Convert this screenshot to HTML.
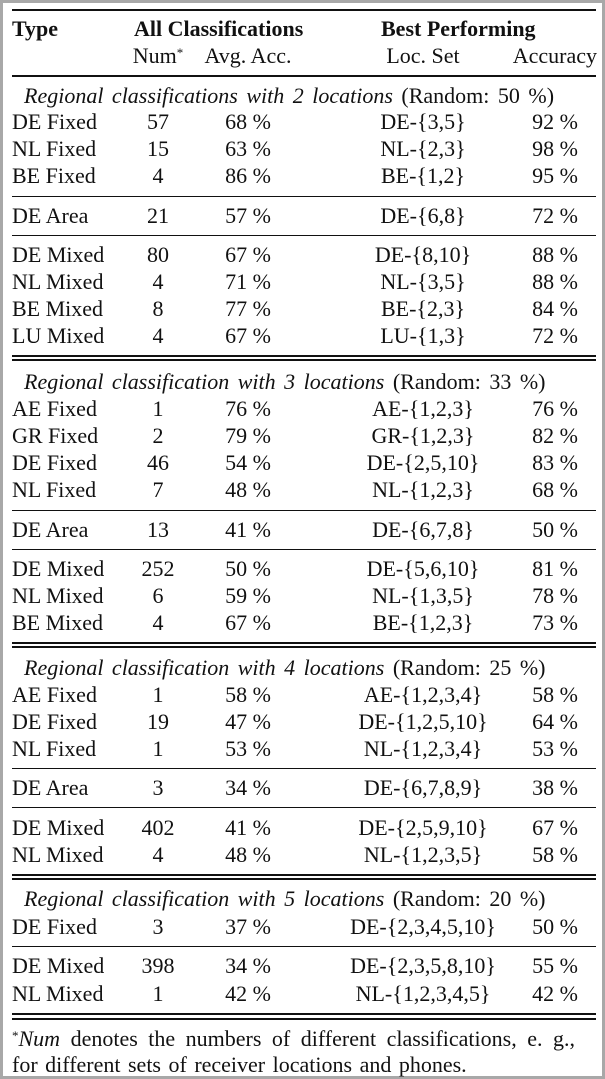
<!DOCTYPE html>
<html><head><meta charset="utf-8"><style>
body{margin:0;width:605px;height:1079px;background:#fff;position:relative;overflow:hidden;font-family:"Liberation Serif","Times New Roman",Times,"DejaVu Serif",serif;font-size:22px;color:#111}
.frame{position:absolute;left:0;top:0;width:599px;height:1073px;border:3px solid #a8a8a8}
.r{position:absolute;height:24px;line-height:24px;white-space:nowrap}
.s{word-spacing:3px}
.t{left:12px}
.n{left:118px;width:80px;text-align:center}
.a{left:198px;width:100px;text-align:center}
.l{left:323px;width:200px;text-align:center}
.c{left:478px;width:100px;text-align:right}
.h{position:absolute;left:12px;width:584px;background:#111}
b{font-weight:bold}
i{font-style:italic}
</style></head><body>
<div class="frame"></div>
<div class="h" style="top:9px;height:2px"></div>
<div class="r t" style="top:17px"><b>Type</b></div>
<div class="r" style="top:17px;left:134px"><b>All Classifications</b></div>
<div class="r" style="top:17px;left:381px"><b>Best Performing</b></div>
<div class="r n" style="top:44px">Num<sup style="font-size:13px;vertical-align:6px;line-height:0">*</sup></div>
<div class="r a" style="top:44px">Avg. Acc.</div>
<div class="r l" style="top:44px">Loc. Set</div>
<div class="r c" style="top:44px;left:460px;width:137px">Accuracy</div>
<div class="h" style="top:75px;height:1.5px"></div>

<div class="r s" style="top:84px;left:24px"><i>Regional classifications with 2 locations</i> (Random: 50 %)</div>
<div class="r t" style="top:110px">DE Fixed</div><div class="r n" style="top:110px">57</div><div class="r a" style="top:110px">68 %</div><div class="r l" style="top:110px">DE-{3,5}</div><div class="r c" style="top:110px">92 %</div>
<div class="r t" style="top:137px">NL Fixed</div><div class="r n" style="top:137px">15</div><div class="r a" style="top:137px">63 %</div><div class="r l" style="top:137px">NL-{2,3}</div><div class="r c" style="top:137px">98 %</div>
<div class="r t" style="top:164px">BE Fixed</div><div class="r n" style="top:164px">4</div><div class="r a" style="top:164px">86 %</div><div class="r l" style="top:164px">BE-{1,2}</div><div class="r c" style="top:164px">95 %</div>
<div class="h" style="top:196px;height:1px"></div>
<div class="r t" style="top:204px">DE Area</div><div class="r n" style="top:204px">21</div><div class="r a" style="top:204px">57 %</div><div class="r l" style="top:204px">DE-{6,8}</div><div class="r c" style="top:204px">72 %</div>
<div class="h" style="top:235px;height:1px"></div>
<div class="r t" style="top:243px">DE Mixed</div><div class="r n" style="top:243px">80</div><div class="r a" style="top:243px">67 %</div><div class="r l" style="top:243px">DE-{8,10}</div><div class="r c" style="top:243px">88 %</div>
<div class="r t" style="top:270px">NL Mixed</div><div class="r n" style="top:270px">4</div><div class="r a" style="top:270px">71 %</div><div class="r l" style="top:270px">NL-{3,5}</div><div class="r c" style="top:270px">88 %</div>
<div class="r t" style="top:297px">BE Mixed</div><div class="r n" style="top:297px">8</div><div class="r a" style="top:297px">77 %</div><div class="r l" style="top:297px">BE-{2,3}</div><div class="r c" style="top:297px">84 %</div>
<div class="r t" style="top:324px">LU Mixed</div><div class="r n" style="top:324px">4</div><div class="r a" style="top:324px">67 %</div><div class="r l" style="top:324px">LU-{1,3}</div><div class="r c" style="top:324px">72 %</div>
<div class="h" style="top:355px;height:1.5px"></div><div class="h" style="top:359px;height:1.5px"></div>

<div class="r s" style="top:370px;left:24px"><i>Regional classification with 3 locations</i> (Random: 33 %)</div>
<div class="r t" style="top:397px">AE Fixed</div><div class="r n" style="top:397px">1</div><div class="r a" style="top:397px">76 %</div><div class="r l" style="top:397px">AE-{1,2,3}</div><div class="r c" style="top:397px">76 %</div>
<div class="r t" style="top:424px">GR Fixed</div><div class="r n" style="top:424px">2</div><div class="r a" style="top:424px">79 %</div><div class="r l" style="top:424px">GR-{1,2,3}</div><div class="r c" style="top:424px">82 %</div>
<div class="r t" style="top:451px">DE Fixed</div><div class="r n" style="top:451px">46</div><div class="r a" style="top:451px">54 %</div><div class="r l" style="top:451px">DE-{2,5,10}</div><div class="r c" style="top:451px">83 %</div>
<div class="r t" style="top:478px">NL Fixed</div><div class="r n" style="top:478px">7</div><div class="r a" style="top:478px">48 %</div><div class="r l" style="top:478px">NL-{1,2,3}</div><div class="r c" style="top:478px">68 %</div>
<div class="h" style="top:510px;height:1px"></div>
<div class="r t" style="top:518px">DE Area</div><div class="r n" style="top:518px">13</div><div class="r a" style="top:518px">41 %</div><div class="r l" style="top:518px">DE-{6,7,8}</div><div class="r c" style="top:518px">50 %</div>
<div class="h" style="top:549px;height:1px"></div>
<div class="r t" style="top:557px">DE Mixed</div><div class="r n" style="top:557px">252</div><div class="r a" style="top:557px">50 %</div><div class="r l" style="top:557px">DE-{5,6,10}</div><div class="r c" style="top:557px">81 %</div>
<div class="r t" style="top:584px">NL Mixed</div><div class="r n" style="top:584px">6</div><div class="r a" style="top:584px">59 %</div><div class="r l" style="top:584px">NL-{1,3,5}</div><div class="r c" style="top:584px">78 %</div>
<div class="r t" style="top:611px">BE Mixed</div><div class="r n" style="top:611px">4</div><div class="r a" style="top:611px">67 %</div><div class="r l" style="top:611px">BE-{1,2,3}</div><div class="r c" style="top:611px">73 %</div>
<div class="h" style="top:642px;height:1.5px"></div><div class="h" style="top:646px;height:1.5px"></div>

<div class="r s" style="top:656px;left:24px"><i>Regional classification with 4 locations</i> (Random: 25 %)</div>
<div class="r t" style="top:683px">AE Fixed</div><div class="r n" style="top:683px">1</div><div class="r a" style="top:683px">58 %</div><div class="r l" style="top:683px">AE-{1,2,3,4}</div><div class="r c" style="top:683px">58 %</div>
<div class="r t" style="top:710px">DE Fixed</div><div class="r n" style="top:710px">19</div><div class="r a" style="top:710px">47 %</div><div class="r l" style="top:710px">DE-{1,2,5,10}</div><div class="r c" style="top:710px">64 %</div>
<div class="r t" style="top:737px">NL Fixed</div><div class="r n" style="top:737px">1</div><div class="r a" style="top:737px">53 %</div><div class="r l" style="top:737px">NL-{1,2,3,4}</div><div class="r c" style="top:737px">53 %</div>
<div class="h" style="top:768px;height:1px"></div>
<div class="r t" style="top:776px">DE Area</div><div class="r n" style="top:776px">3</div><div class="r a" style="top:776px">34 %</div><div class="r l" style="top:776px">DE-{6,7,8,9}</div><div class="r c" style="top:776px">38 %</div>
<div class="h" style="top:807px;height:1px"></div>
<div class="r t" style="top:816px">DE Mixed</div><div class="r n" style="top:816px">402</div><div class="r a" style="top:816px">41 %</div><div class="r l" style="top:816px">DE-{2,5,9,10}</div><div class="r c" style="top:816px">67 %</div>
<div class="r t" style="top:843px">NL Mixed</div><div class="r n" style="top:843px">4</div><div class="r a" style="top:843px">48 %</div><div class="r l" style="top:843px">NL-{1,2,3,5}</div><div class="r c" style="top:843px">58 %</div>
<div class="h" style="top:874px;height:1.5px"></div><div class="h" style="top:878px;height:1.5px"></div>

<div class="r s" style="top:887px;left:24px"><i>Regional classification with 5 locations</i> (Random: 20 %)</div>
<div class="r t" style="top:915px">DE Fixed</div><div class="r n" style="top:915px">3</div><div class="r a" style="top:915px">37 %</div><div class="r l" style="top:915px">DE-{2,3,4,5,10}</div><div class="r c" style="top:915px">50 %</div>
<div class="h" style="top:946px;height:1px"></div>
<div class="r t" style="top:954px">DE Mixed</div><div class="r n" style="top:954px">398</div><div class="r a" style="top:954px">34 %</div><div class="r l" style="top:954px">DE-{2,3,5,8,10}</div><div class="r c" style="top:954px">55 %</div>
<div class="r t" style="top:982px">NL Mixed</div><div class="r n" style="top:982px">1</div><div class="r a" style="top:982px">42 %</div><div class="r l" style="top:982px">NL-{1,2,3,4,5}</div><div class="r c" style="top:982px">42 %</div>
<div class="h" style="top:1013px;height:2px"></div><div class="h" style="top:1018px;height:1.5px"></div>

<div class="r t" style="top:1027px;word-spacing:5px"><sup style="font-size:13px;vertical-align:6px;line-height:0">*</sup><i>Num</i> denotes the numbers of different classifications, e. g.,</div>
<div class="r t" style="top:1053px;word-spacing:2px">for different sets of receiver locations and phones.</div>
</body></html>
